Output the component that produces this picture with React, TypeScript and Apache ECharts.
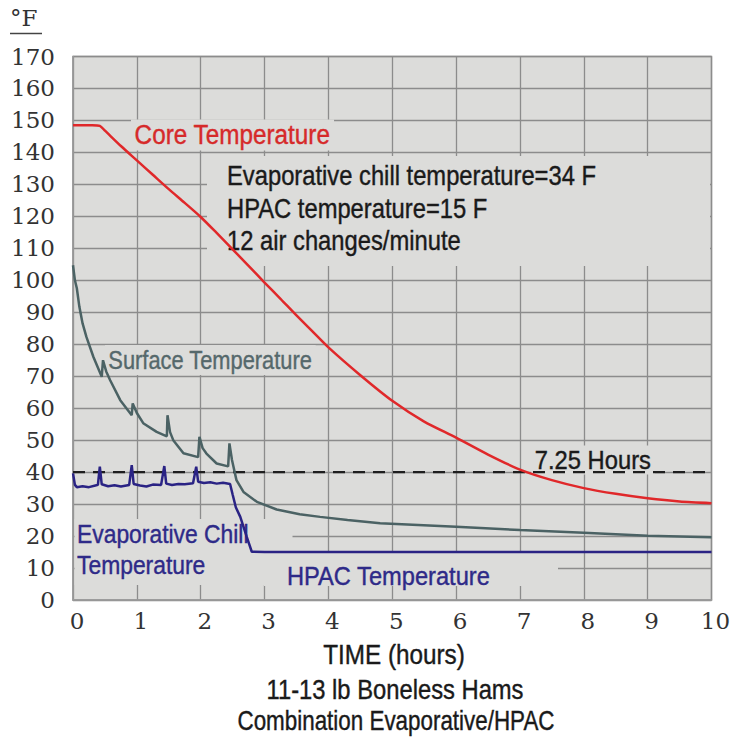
import React, { useEffect, useRef } from "react";
import * as echarts from "echarts";

// ---- Data (time in hours, temperature in °F) ----
const coreTime = [0, 0.3, 0.42, 0.5, 0.75, 1.0, 1.25, 1.5, 1.75, 2.0, 2.25, 2.5, 2.75, 3.0, 3.25, 3.5, 3.75, 4.0, 4.5, 5.0, 5.5, 6.0, 6.5, 7.0, 7.5, 8.0, 8.5, 9.0, 9.5, 10];
const coreTemp = [148.5, 148.5, 148.3, 146.8, 142, 137.5, 133, 128.5, 124.2, 119.8, 114.8, 109.7, 104.5, 99.3, 94.2, 89, 84, 79, 70.3, 62.3, 55.8, 50.8, 45.5, 40.8, 37.5, 35, 33.2, 31.8, 30.8, 30.3];

const surfaceTime = [0, 0.03, 0.06, 0.1, 0.15, 0.21, 0.32, 0.45, 0.47, 0.52, 0.58, 0.74, 0.92, 0.935, 1.0, 1.1, 1.31, 1.47, 1.48, 1.52, 1.57, 1.73, 1.96, 1.98, 2.03, 2.09, 2.25, 2.43, 2.45, 2.49, 2.56, 2.67, 2.88, 3.19, 3.55, 3.87, 4.3, 4.81, 6.0, 7.0, 8.0, 9.0, 10];
const surfaceTemp = [104.7, 100, 97.5, 91.7, 86.5, 82.3, 76, 69.8, 75, 71.5, 68.8, 62.5, 57.8, 61.5, 58.5, 55.3, 52.6, 51.2, 57.8, 52.5, 50, 45.9, 44.7, 51, 47.5, 45.8, 42.7, 41.8, 49, 43.8, 37.5, 33.8, 30.7, 28.3, 26.8, 26, 25, 24, 22.9, 21.9, 21, 20.1, 19.6];

const chillTime = [0, 0.03, 0.06, 0.15, 0.25, 0.35, 0.39, 0.42, 0.45, 0.55, 0.65, 0.75, 0.88, 0.92, 0.95, 1.05, 1.15, 1.25, 1.38, 1.43, 1.46, 1.55, 1.65, 1.75, 1.88, 1.93, 1.96, 2.05, 2.15, 2.25, 2.35, 2.46, 2.5, 2.55, 2.62, 2.72, 2.8, 3.0, 10];
const chillTemp = [39.6, 36, 35.3, 35.6, 35.3, 35.8, 36, 41.7, 36.2, 35.6, 35.9, 35.5, 36, 42.2, 36.3, 35.8, 35.5, 36.1, 36, 41.9, 36.4, 36, 36.3, 36.2, 36.5, 41.7, 37, 36.6, 36.8, 36.4, 36.7, 36.3, 33, 29, 26, 19.8, 15.1, 15, 15];

const targetTime = [0, 10];
const targetTemp = [40, 40];

const xMin = 0, xMax = 10, xStep = 1;
const yMin = 0, yMax = 170, yStep = 10;

const BG = "#dcdcda";
const GRIDLINE = "#8c8c8c";
const INK = "#1a1a1a";
const SANS = "Liberation Sans, Arial, sans-serif";
const SERIF = "DejaVu Serif, serif";

const pairs = (xs: number[], ys: number[]) => xs.map((x, i) => [x, ys[i]]);

const label = (text: string, x: number, y: number, color: string, size: number, scaleX: number, align = "left", bg = true) => ({
  type: "text",
  z: 1,
  x,
  y,
  scaleX,
  style: {
    text,
    x: 0,
    y: 0,
    fill: color,
    stroke: color,
    lineWidth: 0.4,
    fontSize: size,
    fontFamily: SANS,
    align,
    textAlign: align,
    verticalAlign: "middle",
    textVerticalAlign: "middle",
    backgroundColor: bg ? BG : undefined,
    padding: bg ? [2, 4] : 0,
  },
});

export default function App() {
  const ref = useRef<HTMLDivElement>(null);
  useEffect(() => {
    if (!ref.current) return;
    const chart = echarts.init(ref.current, null, { renderer: "svg" });
    chart.setOption({
      animation: false,
      grid: {
        left: 73,
        top: 56.5,
        right: 24.5,
        bottom: 140,
        show: true,
        backgroundColor: BG,
        borderColor: "#9a9a9a",
        borderWidth: 1.5,
      },
      xAxis: {
        type: "value",
        min: xMin,
        max: xMax,
        interval: xStep,
        axisLine: { show: true, lineStyle: { color: "#9a9a9a", width: 1.5 } },
        axisTick: { show: false },
        axisLabel: { fontFamily: SERIF, fontSize: 23, color: "#333", margin: 9, padding: [0, 0, 0, 8] },
        splitLine: { show: true, lineStyle: { color: GRIDLINE, width: 1.3 } },
      },
      yAxis: {
        type: "value",
        min: yMin,
        max: yMax,
        interval: yStep,
        axisLine: { show: true, lineStyle: { color: "#9a9a9a", width: 1.5 } },
        axisTick: { show: false },
        axisLabel: { fontFamily: SERIF, fontSize: 23, color: "#333", margin: 18 },
        splitLine: { show: true, lineStyle: { color: GRIDLINE, width: 1.3 } },
      },
      series: [
        {
          name: "Target",
          type: "line",
          z: 3,
          data: pairs(targetTime, targetTemp),
          showSymbol: false,
          lineStyle: { color: "#1e1e1e", width: 2.2, type: [12, 8] },
        },
        {
          name: "Core Temperature",
          type: "line",
          z: 4,
          data: pairs(coreTime, coreTemp),
          showSymbol: false,
          smooth: 0.25,
          lineStyle: { color: "#e0282a", width: 2.5 },
        },
        {
          name: "Surface Temperature",
          type: "line",
          z: 4,
          data: pairs(surfaceTime, surfaceTemp),
          showSymbol: false,
          lineStyle: { color: "#4b6264", width: 2.5 },
        },
        {
          name: "Evaporative Chill / HPAC Temperature",
          type: "line",
          z: 5,
          data: pairs(chillTime, chillTemp),
          showSymbol: false,
          lineStyle: { color: "#2a2384", width: 2.5 },
        },
      ],
      graphic: [
        // background patches that hide grid lines behind annotation text
        { type: "rect", z: 1, shape: { x: 207, y: 156, width: 503, height: 110 }, style: { fill: BG } },
        { type: "rect", z: 1, shape: { x: 74.5, y: 519, width: 218, height: 66 }, style: { fill: BG } },
        { type: "rect", z: 1, shape: { x: 264, y: 553, width: 294, height: 33 }, style: { fill: BG } },
        label("Core Temperature", 131, 135, "#d62a2a", 27, 0.9),
        label("Evaporative chill temperature=34 F", 227, 175, INK, 27, 0.88, "left", false),
        label("HPAC temperature=15 F", 227, 208, INK, 27, 0.88, "left", false),
        label("12 air changes/minute", 227, 240, INK, 27, 0.88, "left", false),
        label("Surface Temperature", 105, 360, "#55686b", 26, 0.84),
        label("7.25 Hours", 531, 460, INK, 25, 0.95),
        label("Evaporative Chill", 77, 534, "#2e2a88", 26, 0.88, "left", false),
        label("Temperature", 77, 565, "#2e2a88", 26, 0.88, "left", false),
        label("HPAC Temperature", 287, 576, "#2e2a88", 26, 0.91, "left", false),
        // y-axis unit
        {
          type: "text",
          x: 10,
          y: 18,
          style: { text: "°F", x: 0, y: 0, fill: "#333", fontSize: 23, fontFamily: SERIF, verticalAlign: "middle", textVerticalAlign: "middle" },
        },
        { type: "line", shape: { x1: 10, y1: 33.5, x2: 42, y2: 33.5 }, style: { stroke: "#444", lineWidth: 1.5 } },
        // axis title and captions
        label("TIME (hours)", 394, 655, INK, 27, 0.9, "center", false),
        label("11-13 lb Boneless Hams", 395, 689, INK, 27, 0.88, "center", false),
        label("Combination Evaporative/HPAC", 396, 721, INK, 27, 0.83, "center", false),
      ],
    });
    return () => chart.dispose();
  }, []);
  return <div ref={ref} style={{ position: "absolute", left: 0, top: 0, width: 736, height: 740 }} />;
}
